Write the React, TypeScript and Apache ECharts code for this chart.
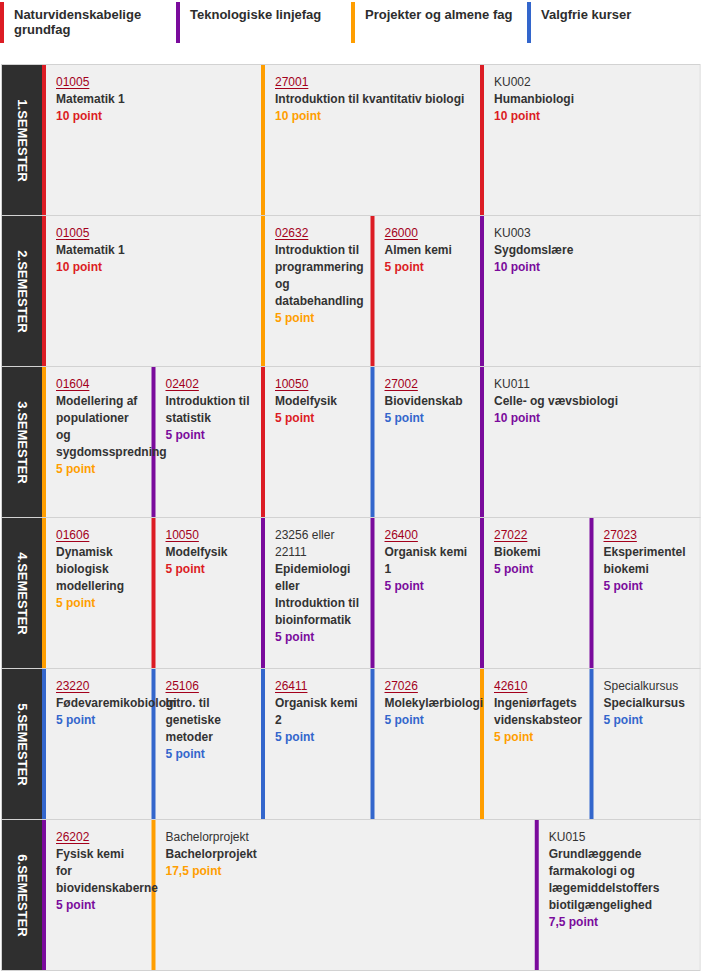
import React, { useEffect, useRef } from "react";
import * as echarts from "echarts";

const categories = ["Naturvidenskabelige\ngrundfag", "Teknologiske linjefag", "Projekter og almene fag", "Valgfrie kurser"];
const categoryColors = ["#dc1c24", "#7a0b9c", "#ff9e00", "#3366cc"];
const semesters = ["1.SEMESTER", "2.SEMESTER", "3.SEMESTER", "4.SEMESTER", "5.SEMESTER", "6.SEMESTER"];

// [code, name (line breaks as shown), points, category index, linked]
type Course = [string, string, number, number, boolean];

const sem1: Course[] = [
  ["01005", "Matematik 1", 10, 0, true],
  ["27001", "Introduktion til kvantitativ biologi", 10, 2, true],
  ["KU002", "Humanbiologi", 10, 0, false],
];
const sem2: Course[] = [
  ["01005", "Matematik 1", 10, 0, true],
  ["02632", "Introduktion til\nprogrammering\nog\ndatabehandling", 5, 2, true],
  ["26000", "Almen kemi", 5, 0, true],
  ["KU003", "Sygdomslære", 10, 1, false],
];
const sem3: Course[] = [
  ["01604", "Modellering af\npopulationer\nog\nsygdomsspredning", 5, 2, true],
  ["02402", "Introduktion til\nstatistik", 5, 1, true],
  ["10050", "Modelfysik", 5, 0, true],
  ["27002", "Biovidenskab", 5, 3, true],
  ["KU011", "Celle- og vævsbiologi", 10, 1, false],
];
const sem4: Course[] = [
  ["01606", "Dynamisk\nbiologisk\nmodellering", 5, 2, true],
  ["10050", "Modelfysik", 5, 0, true],
  ["23256 eller\n22111", "Epidemiologi\neller\nIntroduktion til\nbioinformatik", 5, 1, false],
  ["26400", "Organisk kemi\n1", 5, 1, true],
  ["27022", "Biokemi", 5, 1, true],
  ["27023", "Eksperimentel\nbiokemi", 5, 1, true],
];
const sem5: Course[] = [
  ["23220", "Fødevaremikobiologi", 5, 3, true],
  ["25106", "Intro. til\ngenetiske\nmetoder", 5, 3, true],
  ["26411", "Organisk kemi\n2", 5, 3, true],
  ["27026", "Molekylærbiologi", 5, 3, true],
  ["42610", "Ingeniørfagets\nvidenskabsteor", 5, 2, true],
  ["Specialkursus", "Specialkursus", 5, 3, false],
];
const sem6: Course[] = [
  ["26202", "Fysisk kemi\nfor\nbiovidenskaberne", 5, 1, true],
  ["Bachelorprojekt", "Bachelorprojekt", 17.5, 2, false],
  ["KU015", "Grundlæggende\nfarmakologi og\nlægemiddelstoffers\nbiotilgængelighed", 7.5, 1, false],
];
const semesterCourses = [sem1, sem2, sem3, sem4, sem5, sem6];

const FONT = 'Arial, "Liberation Sans", sans-serif';
const LINK = "#a3001b";
const DARK = "#333333";

let measureCtx: CanvasRenderingContext2D | null = null;
function textWidth(t: string, font: string) {
  if (!measureCtx) measureCtx = document.createElement("canvas").getContext("2d");
  if (!measureCtx) return t.length * 6.7;
  measureCtx.font = font;
  return measureCtx.measureText(t).width;
}

export default function App() {
  const ref = useRef<HTMLDivElement>(null);
  useEffect(() => {
    if (!ref.current) return;
    const chart = echarts.init(ref.current, null, { renderer: "svg" });

    const flat: { c: Course; s: number; start: number }[] = [];
    semesterCourses.forEach((list, s) => {
      let start = 0;
      list.forEach((c) => {
        flat.push({ c, s, start });
        start += c[2];
      });
    });

    const courseRender = (params: any, api: any) => {
      const item = flat[params.dataIndex];
      const [code, name, pts, cat, linked] = item.c;
      const p0 = api.coord([api.value(0), api.value(2)]);
      const p1 = api.coord([api.value(1), api.value(2)]);
      const h = api.size([0, 1])[1];
      const top = p0[1] - h / 2;
      const left = p0[0];
      const w = p1[0] - p0[0];
      const color = categoryColors[cat];
      const children: any[] = [
        { type: "rect", z2: 0, shape: { x: left, y: top + 1, width: w, height: h - 1 }, style: { fill: "#f0f0f0" } },
        { type: "rect", z2: 1, shape: { x: left, y: top + 1, width: 4, height: h - 1 }, style: { fill: color } },
      ];
      const tx = left + 14;
      let y = top + 18;
      const regFont = `12px ${FONT}`;
      const boldFont = `bold 12px ${FONT}`;
      code.split("\n").forEach((line) => {
        children.push({
          type: "text", z2: 10, x: tx, y,
          style: { text: line, fill: linked ? LINK : DARK, font: regFont, verticalAlign: "middle", align: "left" },
        });
        if (linked) {
          const tw = textWidth(line, regFont);
          children.push({
            type: "line", z2: 10,
            shape: { x1: tx, y1: y + 6.5, x2: tx + tw, y2: y + 6.5 },
            style: { stroke: LINK, lineWidth: 1 },
          });
        }
        y += 17;
      });
      name.split("\n").forEach((line) => {
        children.push({
          type: "text", z2: 10, x: tx, y,
          style: { text: line, fill: DARK, font: boldFont, verticalAlign: "middle", align: "left" },
        });
        y += 17;
      });
      children.push({
        type: "text", z2: 10, x: tx, y,
        style: { text: String(pts).replace(".", ",") + " point", fill: color, font: boldFont, verticalAlign: "middle", align: "left" },
      });
      return { type: "group", children };
    };

    const semRender = (params: any, api: any) => {
      const idx = api.value(1);
      const p = api.coord([0, idx]);
      const h = api.size([0, 1])[1];
      const top = p[1] - h / 2;
      const children: any[] = [
        { type: "rect", z2: 0, shape: { x: p[0] - 40, y: top + 1, width: 40, height: h - 1 }, style: { fill: "#2f2f2f" } },
        { type: "line", z2: 20, shape: { x1: 1, y1: top + 0.5, x2: 700, y2: top + 0.5 }, style: { stroke: "#d2d2d2", lineWidth: 1 } },
        { type: "line", z2: 20, shape: { x1: 1.5, y1: top, x2: 1.5, y2: top + h + 1 }, style: { stroke: "#d2d2d2", lineWidth: 1 } },
        { type: "line", z2: 20, shape: { x1: 700, y1: top, x2: 700, y2: top + h + 1 }, style: { stroke: "#d2d2d2", lineWidth: 1 } },
        {
          type: "text", z2: 20, x: p[0] - 20, y: p[1] + 1, rotation: -Math.PI / 2,
          style: { text: semesters[idx], fill: "#ffffff", font: `bold 13px ${FONT}`, align: "center", verticalAlign: "middle" },
        },
      ];
      if (idx === semesters.length - 1) {
        children.push({ type: "line", z2: 20, shape: { x1: 1, y1: top + h + 0.5, x2: 700, y2: top + h + 0.5 }, style: { stroke: "#d2d2d2", lineWidth: 1 } });
      }
      return { type: "group", children };
    };

    const legendGraphics: any[] = categories.map((name, i) => ({
      type: "group",
      x: Math.round(i * 175.5),
      y: 0,
      children: [
        { type: "rect", shape: { x: 0, y: 2, width: 4, height: 41 }, style: { fill: categoryColors[i] } },
        {
          type: "text", x: 14, y: 7,
          style: { text: name, fill: "#2d2d2d", font: `bold 13px ${FONT}`, lineHeight: 15, verticalAlign: "top", align: "left" },
        },
      ],
    }));

    chart.setOption({
      animation: false,
      grid: { left: 42, right: 4, top: 64, bottom: 3 },
      xAxis: { type: "value", min: 0, max: 30, show: false },
      yAxis: { type: "category", data: semesters, inverse: true, show: false },
      graphic: legendGraphics,
      series: [
        {
          type: "custom",
          renderItem: semRender,
          encode: { x: 0, y: 1 },
          data: semesters.map((_, i) => [0, i]),
          clip: false,
          silent: true,
        },
        {
          type: "custom",
          renderItem: courseRender,
          encode: { x: [0, 1], y: 2 },
          data: flat.map((f) => [f.start, f.start + f.c[2], f.s]),
          clip: false,
          silent: true,
        },
      ],
    });
    return () => chart.dispose();
  }, []);
  return <div ref={ref} style={{ position: "absolute", left: 0, top: 0, width: 703, height: 973, background: "#fff" }} />;
}
